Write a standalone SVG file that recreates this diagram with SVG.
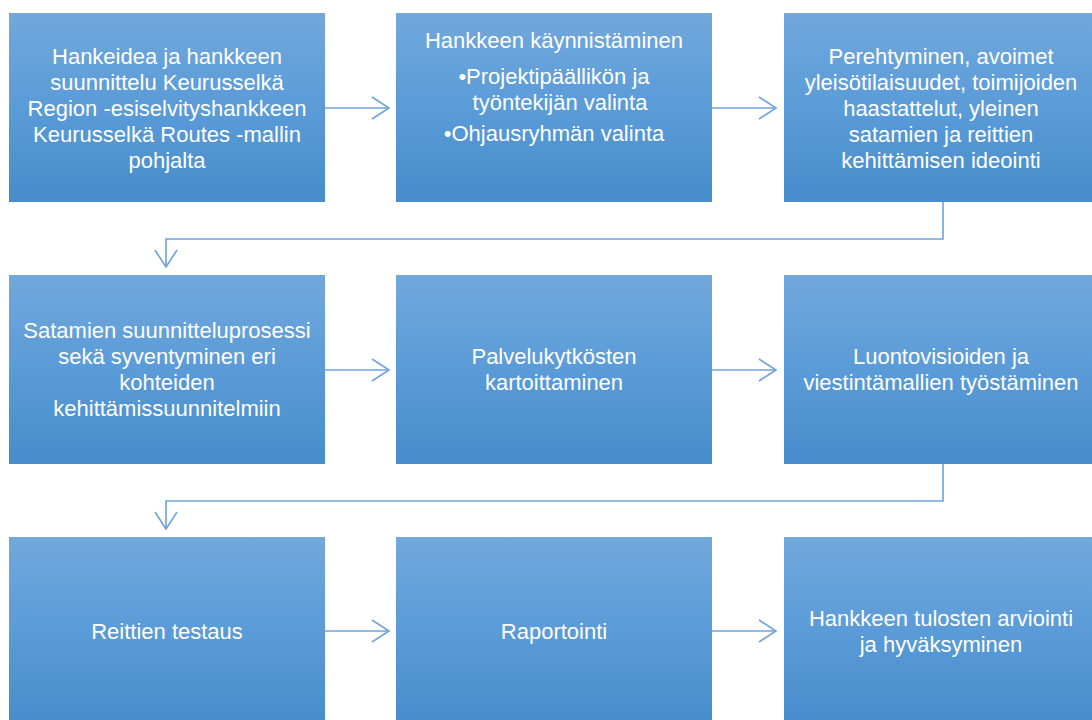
<svg xmlns="http://www.w3.org/2000/svg" width="1092" height="720" viewBox="0 0 1092 720">
<defs>
<linearGradient id="g" x1="0" y1="0" x2="0" y2="1">
<stop offset="0" stop-color="#72A8DC"/>
<stop offset="0.5" stop-color="#5A9BD8"/>
<stop offset="1" stop-color="#478DCB"/>
</linearGradient>
<marker id="ah" viewBox="0 0 20 24" markerWidth="20" markerHeight="24" refX="18" refY="12" orient="auto" markerUnits="userSpaceOnUse">
<path d="M1,1 L18,12 L1,23" fill="none" stroke="#6FA3D9" stroke-width="1.6"/>
</marker>
</defs>
<style>
.box{fill:url(#g);}
.t{font-family:"Liberation Sans",Arial,sans-serif;font-size:22px;fill:#fff;text-anchor:middle;dominant-baseline:central;}
.c{fill:none;stroke:#6FA3D9;stroke-width:1.6;marker-end:url(#ah);}
</style>
<rect width="1092" height="720" fill="#fff"/>
<g id="connectors">
<path class="c" d="M325,108 H389"/>
<path class="c" d="M712,108 H776"/>
<path class="c" d="M943,202 V239 H166 V267"/>
<path class="c" d="M325,370 H389"/>
<path class="c" d="M712,370 H776"/>
<path class="c" d="M943,464 V501 H166 V529"/>
<path class="c" d="M325,631 H389"/>
<path class="c" d="M712,631 H776"/>
</g>
<g id="n1"><rect class="box" x="9" y="13" width="316" height="189"/>
<text class="t"><tspan x="167" y="56">Hankeidea ja hankkeen</tspan><tspan x="167" y="82">suunnittelu Keurusselkä</tspan><tspan x="167" y="108">Region -esiselvityshankkeen</tspan><tspan x="167" y="134">Keurusselkä Routes -mallin</tspan><tspan x="167" y="160">pohjalta</tspan></text></g>
<g id="n2"><rect class="box" x="396" y="13" width="316" height="189"/>
<text class="t"><tspan x="554" y="40">Hankkeen käynnistäminen</tspan><tspan x="554" y="76">•Projektipäällikön ja</tspan><tspan x="560" y="102">työntekijän valinta</tspan><tspan x="554" y="133">•Ohjausryhmän valinta</tspan></text></g>
<g id="n3"><rect class="box" x="784" y="13" width="316" height="189"/>
<text class="t"><tspan x="941" y="56">Perehtyminen, avoimet</tspan><tspan x="941" y="82">yleisötilaisuudet, toimijoiden</tspan><tspan x="941" y="108">haastattelut, yleinen</tspan><tspan x="941" y="134">satamien ja reittien</tspan><tspan x="941" y="160">kehittämisen ideointi</tspan></text></g>
<g id="n4"><rect class="box" x="9" y="275" width="316" height="189"/>
<text class="t"><tspan x="167" y="330">Satamien suunnitteluprosessi</tspan><tspan x="167" y="356">sekä syventyminen eri</tspan><tspan x="167" y="382">kohteiden</tspan><tspan x="167" y="408">kehittämissuunnitelmiin</tspan></text></g>
<g id="n5"><rect class="box" x="396" y="275" width="316" height="189"/>
<text class="t"><tspan x="554" y="356">Palvelukytkösten</tspan><tspan x="554" y="382">kartoittaminen</tspan></text></g>
<g id="n6"><rect class="box" x="784" y="275" width="316" height="189"/>
<text class="t"><tspan x="941" y="356">Luontovisioiden ja</tspan><tspan x="941" y="382">viestintämallien työstäminen</tspan></text></g>
<g id="n7"><rect class="box" x="9" y="537" width="316" height="189"/>
<text class="t"><tspan x="167" y="631">Reittien testaus</tspan></text></g>
<g id="n8"><rect class="box" x="396" y="537" width="316" height="189"/>
<text class="t"><tspan x="554" y="631">Raportointi</tspan></text></g>
<g id="n9"><rect class="box" x="784" y="537" width="316" height="189"/>
<text class="t"><tspan x="941" y="618">Hankkeen tulosten arviointi</tspan><tspan x="941" y="644">ja hyväksyminen</tspan></text></g>
</svg>
